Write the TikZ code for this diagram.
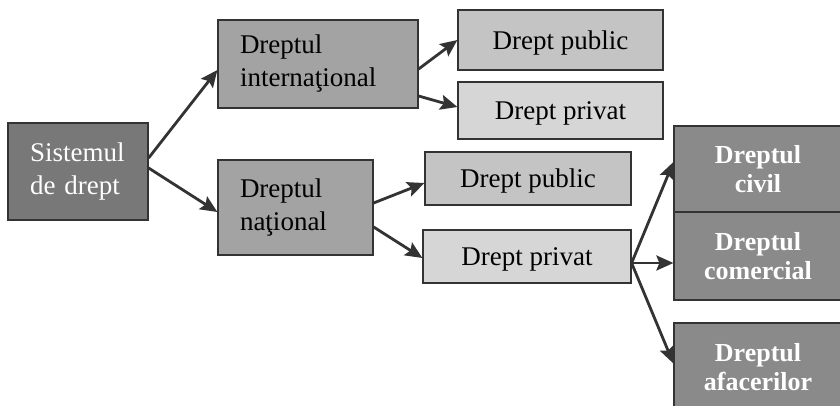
\documentclass[tikz,border=0pt]{standalone}
\usepackage{fontspec}
\setmainfont{Liberation Serif}
\usetikzlibrary{arrows.meta}

\definecolor{sysgray}{gray}{0.47}
\definecolor{midgray}{gray}{0.64}
\definecolor{pubgray}{gray}{0.77}
\definecolor{privgray}{gray}{0.84}
\definecolor{ramgray}{gray}{0.54}
\definecolor{linegray}{gray}{0.2}

\begin{document}
\begin{tikzpicture}[x=1pt,y=-1pt,
  box/.style={draw=linegray,line width=1.2pt,rectangle,inner ysep=0pt,
    font=\fontsize{27}{33}\selectfont},
  lbox/.style={box,align=left,inner xsep=22pt,text width=#1},
  leaf/.style={box,align=center,minimum width=#1,minimum height=55pt,text depth=0pt},
  ramura/.style={box,fill=ramgray,text=white,align=center,minimum width=168pt,
    font=\fontsize{26}{29}\selectfont\bfseries},
  sageata/.style={draw=linegray,line width=2.8pt,-{Stealth[length=17pt,width=15pt,inset=3pt]}}]
\path[use as bounding box,clip] (0,0) rectangle (840,406);
\fill[white] (0,0) rectangle (840,406);

 \node[lbox=96pt,fill=sysgray,text=white,minimum height=97pt] at (78,171.5) (sistem) {Sistemul\\de drept};
 \node[lbox=156pt,fill=midgray,minimum height=88pt] at (318,64) (intl) {Dreptul\\internaţional};
 \node[lbox=111pt,fill=midgray,minimum height=95pt] at (295.5,207.5) (natl) {Dreptul\\naţional};

 \node[leaf=205pt,fill=pubgray,minimum height=60pt] at (560.5,40) (pubI) {Drept public};
 \node[leaf=205pt,fill=privgray,minimum height=57pt] at (560.5,110.5) (privI) {Drept privat};
 \node[leaf=206pt,fill=pubgray,minimum height=53pt] at (528,178.5) (pubN) {Drept public};
 \node[leaf=208pt,fill=privgray,minimum height=53pt] at (527,256.5) (privN) {Drept privat};

 \node[ramura,minimum height=86pt] at (758,169) (civil) {Dreptul\\civil};
 \node[ramura,minimum height=88pt] at (758,256) (comercial) {Dreptul\\comercial};
 \node[ramura,minimum height=88pt] at (758,367) (afaceri) {Dreptul\\afacerilor};

 \draw[sageata] ([yshift=13.5pt]sistem.east) -- ([yshift=-6pt]intl.west);
 \draw[sageata] ([yshift=3.5pt]sistem.east) -- ([yshift=-4.5pt]natl.west);

 \draw[sageata] ([yshift=-5pt]intl.east) -- (pubI.west);
 \draw[sageata] ([yshift=-32pt]intl.east) -- ([yshift=3.5pt]privI.west);

 \draw[sageata] ([yshift=4.5pt]natl.east) -- ([yshift=-4.5pt]pubN.west);
 \draw[sageata] ([yshift=-19.5pt]natl.east) -- ([yshift=-1.5pt]privN.west);

 \draw[sageata] ([yshift=-6.5pt]privN.east) -- ([yshift=7pt]civil.west);
 \draw[sageata] ([yshift=-6.5pt]privN.east) -- ([yshift=-7pt]comercial.west);
 \draw[sageata] ([yshift=-6.5pt]privN.east) -- ([yshift=3.5pt]afaceri.west);
\end{tikzpicture}
\end{document}
